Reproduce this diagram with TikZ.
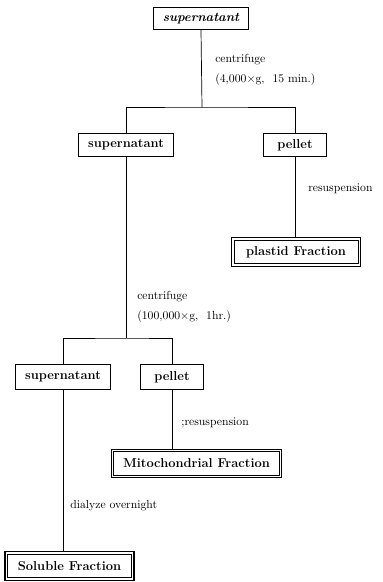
\documentclass[tikz,border=0pt]{standalone}
\usepackage{tikz}
\usetikzlibrary{calc}

\tikzset{
  stepbox/.style={draw, line width=0.7pt, font=\fontsize{11}{13}\selectfont\bfseries,
    inner xsep=8pt, minimum width=54pt, minimum height=20pt},
  fracbox/.style={draw, line width=0.5pt,
    font=\fontsize{11}{13}\selectfont\bfseries, inner xsep=8pt,
    minimum width=106pt, minimum height=20pt},
  note/.style={anchor=west, align=left, font=\fontsize{10}{17}\selectfont}
}

\begin{document}
\begin{tikzpicture}[x=0.03cm, y=-0.03cm, line width=0.6pt]
          \useasboundingbox (0,0) rectangle (382,582);

          \node [stepbox, minimum height=19pt, font=\fontsize{11}{13}\selectfont\bfseries\itshape] (sup0) at (201,18.5) {supernatant}; % Draws the start box
          \coordinate (j1) at (202,107);

          \node [stepbox] (sup1) at (126,145) {supernatant}; % Draws a box
          \node [stepbox] (pel1) at (295,145) {pellet}; % Draws a box
          \node [fracbox] (plastid) at (296,252) {plastid Fraction}; % Draws a fraction box

          \coordinate (j2) at (126,338);
          \node [stepbox, minimum height=22pt] (sup2) at (63,377) {supernatant}; % Draws a box
          \node [stepbox, minimum height=22pt] (pel2) at (172,377) {pellet}; % Draws a box
          \node [fracbox] (mito) at (196.5,463.5) {Mitochondrial Fraction}; % Draws a fraction box
          \node [fracbox] (sol) at (69.5,566) {Soluble Fraction}; % Draws a fraction box

          % outer frame of the fraction boxes
          \foreach \n in {plastid, mito, sol}
            \draw [line width=1pt] ($(\n.south west)+(-1.8pt,-1.8pt)$) rectangle ($(\n.north east)+(1.8pt,1.8pt)$);

          \node [note] (cent1) at (211,70) {centrifuge\\(4,000$\times$g, \ 15 min.)};
          \node [note] (res1) at (304,189) {resuspension};
          \node [note] (cent2) at (133,307) {centrifuge\\(100,000$\times$g, \ 1hr.)};
          \node [note] (res2) at (177,423) {;resuspension};
          \node [note] (dial) at (66,506) {dialyze overnight};

          \draw (sup0.south) -- (j1);
          \draw (sup1.north) |- (j1) -| (pel1.north);
          \draw [shorten >=1.8pt] (pel1.south) -- (pel1.south |- plastid.north);

          \draw (sup1.south) -- (j2);
          \draw (sup2.north) |- (j2) -| (pel2.north);
          \draw [shorten >=1.8pt] (pel2.south) -- (pel2.south |- mito.north);
          \draw [shorten >=1.8pt] (sup2.south) -- (sup2.south |- sol.north);
        \end{tikzpicture}
\end{document}
